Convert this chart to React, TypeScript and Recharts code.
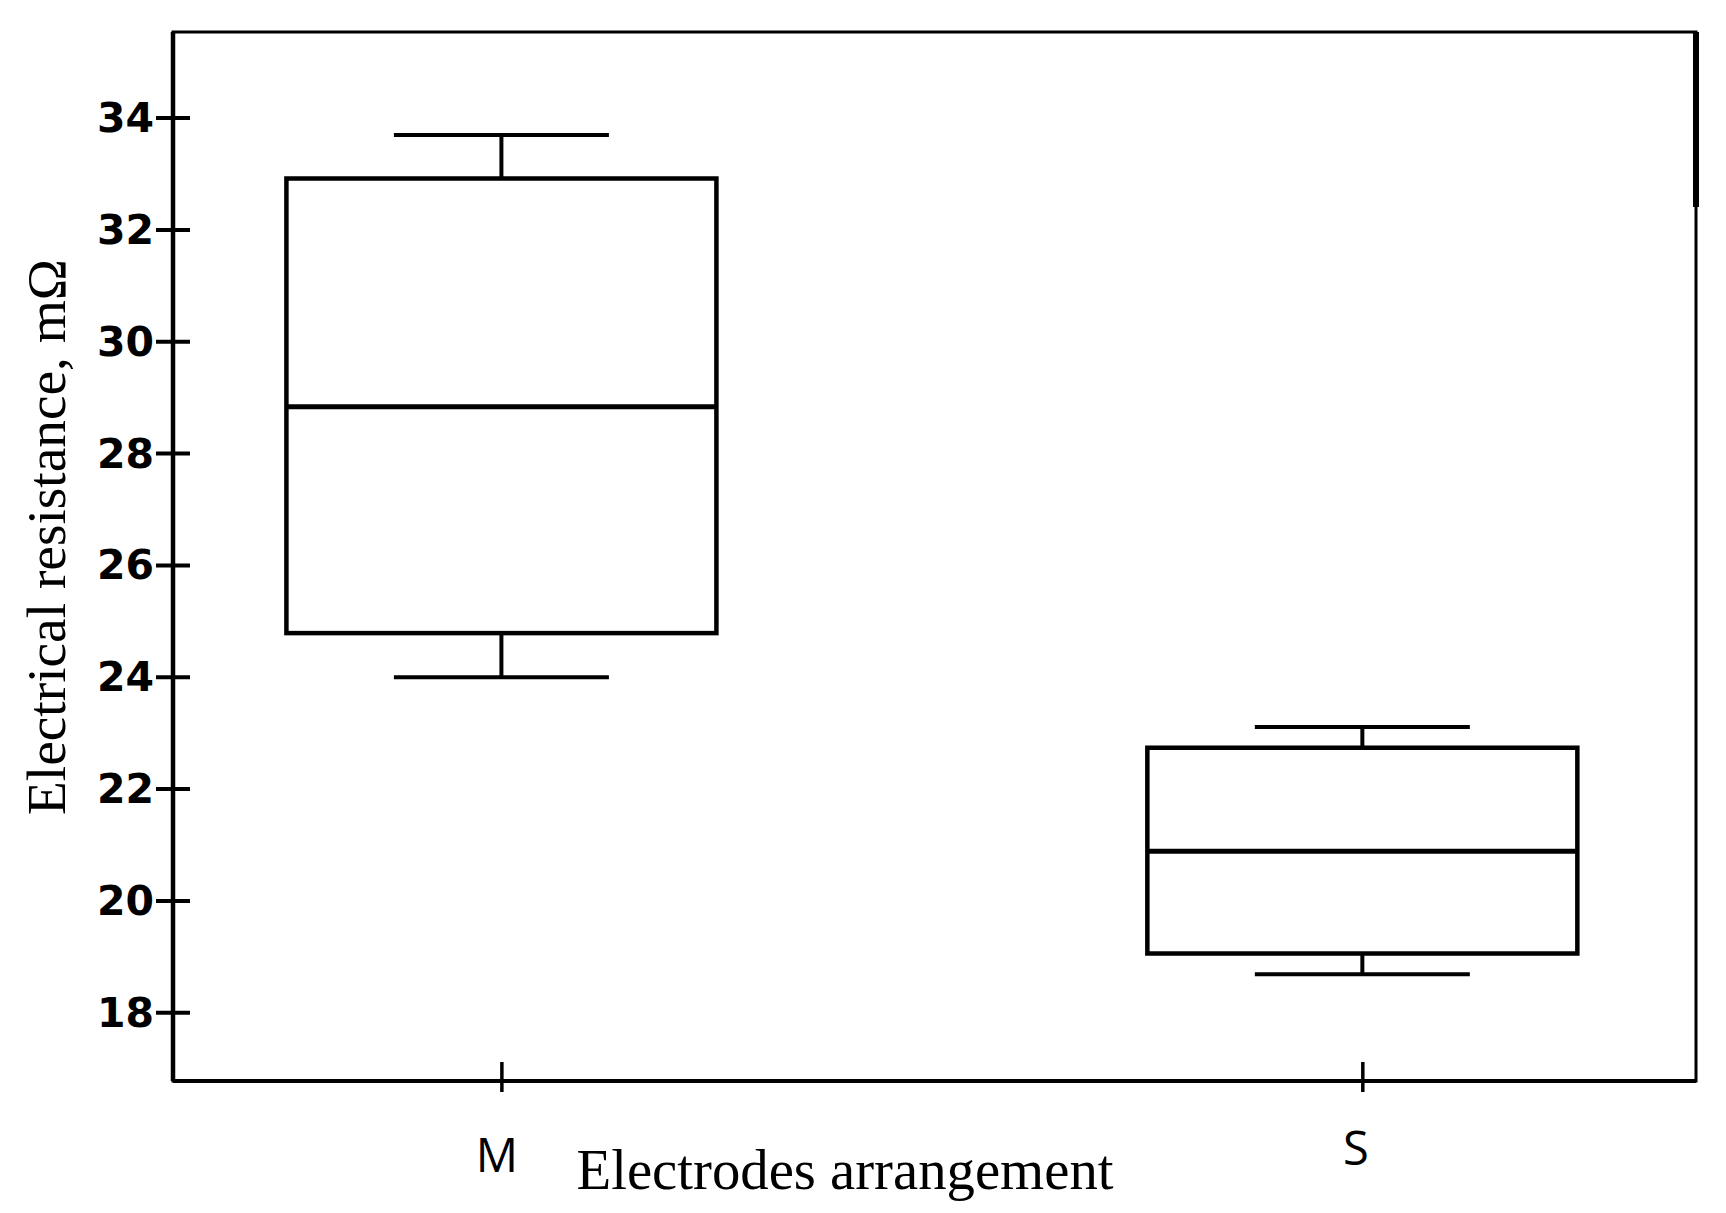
import React from 'react';
import { ComposedChart, Bar, XAxis, YAxis, ReferenceArea, ReferenceLine } from 'recharts';

// ---- data ----
const categories = ['M', 'S'];
const categoryPositions = [1, 2];
const whiskerLow = [24.0, 18.69];
const quartile1 = [24.79, 19.06];
const medians = [28.84, 20.89];
const quartile3 = [32.92, 22.74];
const whiskerHigh = [33.7, 23.11];
const yTicks = [18, 20, 22, 24, 26, 28, 30, 32, 34];

const X_MIN = 0.618;
const X_MAX = 2.387;
const Y_MIN = 16.78;
const Y_MAX = 35.54;

const data = categories.map((name, i) => ({
  name,
  pos: categoryPositions[i],
  range: [whiskerLow[i], whiskerHigh[i]],
  low: whiskerLow[i],
  q1: quartile1[i],
  median: medians[i],
  q3: quartile3[i],
  high: whiskerHigh[i],
}));

const BoxShape = (props: any) => {
  const { x, y, width, height, payload } = props;
  if (x == null || y == null || !payload) return null;
  const top = Math.min(y, y + height);
  const bottom = Math.max(y, y + height);
  const { low, high, q1, median, q3 } = payload;
  const py = (v: number) => top + ((bottom - top) * (high - v)) / (high - low);
  const cx = x + width / 2;
  const capHalf = width / 4;
  const yq1 = py(q1);
  const yq3 = py(q3);
  const ymed = py(median);
  const yhi = py(high);
  const ylo = py(low);
  return (
    <g>
      <line x1={cx} x2={cx} y1={yhi} y2={yq3} stroke="#000" strokeWidth={4} />
      <line x1={cx - capHalf} x2={cx + capHalf} y1={yhi} y2={yhi} stroke="#000" strokeWidth={4} />
      <line x1={cx} x2={cx} y1={yq1} y2={ylo} stroke="#000" strokeWidth={4} />
      <line x1={cx - capHalf} x2={cx + capHalf} y1={ylo} y2={ylo} stroke="#000" strokeWidth={4} />
      <rect x={x} y={yq3} width={width} height={yq1 - yq3} fill="#fff" stroke="#000" strokeWidth={4.5} />
      <line x1={x} x2={x + width} y1={ymed} y2={ymed} stroke="#000" strokeWidth={5} />
    </g>
  );
};

const Y_TICK_SIZE = 17;
const Y_TICK_MARGIN = 2;

const YTick = (props: any) => {
  const { x, y, payload } = props;
  const axisX = x + Y_TICK_SIZE + Y_TICK_MARGIN;
  return (
    <g>
      <line x1={axisX - 17} x2={axisX + 17} y1={y} y2={y} stroke="#000" strokeWidth={4} />
      <text
        x={x}
        y={y}
        textAnchor="end"
        dominantBaseline="central"
        fontFamily="'DejaVu Sans', sans-serif"
        fontWeight="bold"
        fontSize={41}
        fill="#000"
      >
        {payload.value}
      </text>
    </g>
  );
};

const X_TICK_SIZE = 10;
const labelShift: Record<string, { dx: number; dy: number }> = {
  M: { dx: -5, dy: 91 },
  S: { dx: -7, dy: 84 },
};

const XTick = (props: any) => {
  const { x, y, payload } = props;
  const axisY = y - X_TICK_SIZE;
  const idx = categoryPositions.indexOf(payload.value);
  const label = idx >= 0 ? categories[idx] : '';
  const s = labelShift[label] || { dx: 0, dy: 88 };
  return (
    <g>
      <line x1={x} x2={x} y1={axisY - 19} y2={axisY + 11} stroke="#000" strokeWidth={3.5} />
      <text
        x={x + s.dx}
        y={axisY + s.dy}
        textAnchor="middle"
        fontFamily="'Open Sans', sans-serif"
        fontSize={47}
        fill="#000"
      >
        {label}
      </text>
    </g>
  );
};

export default function App() {
  return (
    <div style={{ position: 'absolute', left: 0, top: 0, width: 1726, height: 1213, background: '#fff' }}>
      <ComposedChart
        width={1726}
        height={1213}
        data={data}
        margin={{ top: 32, right: 30, bottom: 0, left: 0 }}
      >
        <ReferenceArea
          x1={X_MIN}
          x2={X_MAX}
          y1={Y_MIN}
          y2={Y_MAX}
          fill="none"
          fillOpacity={0}
          stroke="#000"
          strokeWidth={3}
          ifOverflow="visible"
        />
        <XAxis
          type="number"
          dataKey="pos"
          domain={[X_MIN, X_MAX]}
          ticks={categoryPositions}
          allowDataOverflow
          height={132}
          axisLine={{ stroke: '#000', strokeWidth: 4 }}
          tickLine={false}
          tickSize={X_TICK_SIZE}
          tickMargin={0}
          tick={<XTick />}
          interval={0}
        />
        <YAxis
          type="number"
          domain={[Y_MIN, Y_MAX]}
          ticks={yTicks}
          allowDataOverflow
          width={173}
          axisLine={{ stroke: '#000', strokeWidth: 4.5 }}
          tickLine={false}
          tickSize={Y_TICK_SIZE}
          tickMargin={Y_TICK_MARGIN}
          tick={<YTick />}
          interval={0}
        />
        <Bar dataKey="range" barSize={430} shape={<BoxShape />} isAnimationActive={false} />
        <ReferenceLine
          segment={[
            { x: X_MAX, y: Y_MAX },
            { x: X_MAX, y: 32.41 },
          ]}
          stroke="#000"
          strokeWidth={6}
          ifOverflow="visible"
        />
        <text
          x={845}
          y={1189}
          textAnchor="middle"
          fontFamily="'Liberation Serif', serif"
          fontSize={56}
          textLength={537}
          lengthAdjust="spacingAndGlyphs"
          fill="#000"
        >
          Electrodes arrangement
        </text>
        <text
          x={65}
          y={537}
          transform="rotate(-90 65 537)"
          textAnchor="middle"
          fontFamily="'Liberation Serif', serif"
          fontSize={55}
          textLength={556}
          lengthAdjust="spacingAndGlyphs"
          fill="#000"
        >
          Electrical resistance, mΩ
        </text>
      </ComposedChart>
    </div>
  );
}
